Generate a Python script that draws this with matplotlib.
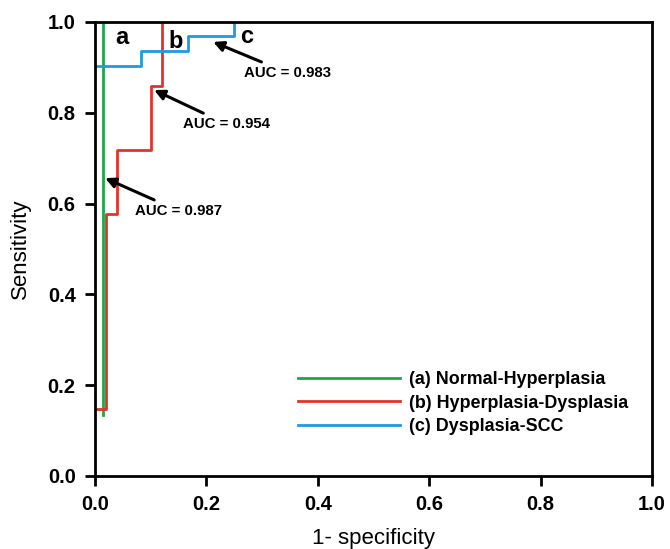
import matplotlib
matplotlib.use("Agg")
import matplotlib.pyplot as plt

plt.rcParams["font.family"] = ["Liberation Sans", "DejaVu Sans"]

# ROC step curves (1 - specificity, sensitivity)
fpr_a = [0.015, 0.015]
tpr_a = [0.135, 1.0]

fpr_b = [0.0, 0.02, 0.02, 0.04, 0.04, 0.10, 0.10, 0.12, 0.12]
tpr_b = [0.148, 0.148, 0.577, 0.577, 0.718, 0.718, 0.859, 0.859, 1.0]

fpr_c = [0.0, 0.083, 0.083, 0.167, 0.167, 0.25, 0.25]
tpr_c = [0.903, 0.903, 0.935, 0.935, 0.968, 0.968, 1.0]

labels = ["(a) Normal-Hyperplasia", "(b) Hyperplasia-Dysplasia", "(c) Dysplasia-SCC"]
auc_values = [0.987, 0.954, 0.983]
ticks = [0.0, 0.2, 0.4, 0.6, 0.8, 1.0]

fig = plt.figure(figsize=(6.7, 5.49), dpi=100)
ax = fig.add_axes([0.142, 0.133, 0.831, 0.827])

ax.plot(fpr_a, tpr_a, color="#1ea64b", lw=2, label=labels[0])
ax.plot(fpr_b, tpr_b, color="#e53228", lw=2, label=labels[1])
ax.plot(fpr_c, tpr_c, color="#1e9ae0", lw=2, label=labels[2])

ax.set_xlim(0, 1)
ax.set_ylim(0, 1)
ax.set_xticks(ticks)
ax.set_yticks(ticks)
ax.set_xticklabels([f"{t:.1f}" for t in ticks], fontweight="bold", fontsize=14.5)
ax.set_yticklabels([f"{t:.1f}" for t in ticks], fontweight="bold", fontsize=14.5)
ax.tick_params(direction="out", length=7, width=2, top=False, right=False, pad=7)
for s in ax.spines.values():
    s.set_linewidth(2)

ax.set_xlabel("1- specificity", fontsize=16, labelpad=10)
ax.set_ylabel("Sensitivity", fontsize=16, labelpad=12)

# curve letters
ax.text(0.048, 0.965, "a", fontsize=17, fontweight="bold", ha="center", va="center")
ax.text(0.144, 0.958, "b", fontsize=17, fontweight="bold", ha="center", va="center")
ax.text(0.272, 0.968, "c", fontsize=17, fontweight="bold", ha="center", va="center")

# AUC annotations
arrow = dict(arrowstyle="-|>", color="black", lw=2.2, mutation_scale=15, shrinkA=2, shrinkB=0)
ax.annotate(f"AUC = {auc_values[0]}", xy=(0.018, 0.656), xytext=(0.072, 0.584),
            fontsize=10.8, fontweight="bold", arrowprops=arrow, va="center")
ax.annotate(f"AUC = {auc_values[1]}", xy=(0.106, 0.850), xytext=(0.158, 0.775),
            fontsize=10.8, fontweight="bold", arrowprops=arrow, va="center")
ax.annotate(f"AUC = {auc_values[2]}", xy=(0.212, 0.956), xytext=(0.2675, 0.888),
            fontsize=10.8, fontweight="bold", arrowprops=arrow, va="center")

leg = ax.legend(loc="upper left", bbox_to_anchor=(0.364, 0.231), frameon=False,
                prop={"weight": "bold", "size": 12.9}, handlelength=5.7,
                labelspacing=0.36, handletextpad=0.5, borderpad=0, borderaxespad=0)

fig.savefig("out.png", dpi=100)
